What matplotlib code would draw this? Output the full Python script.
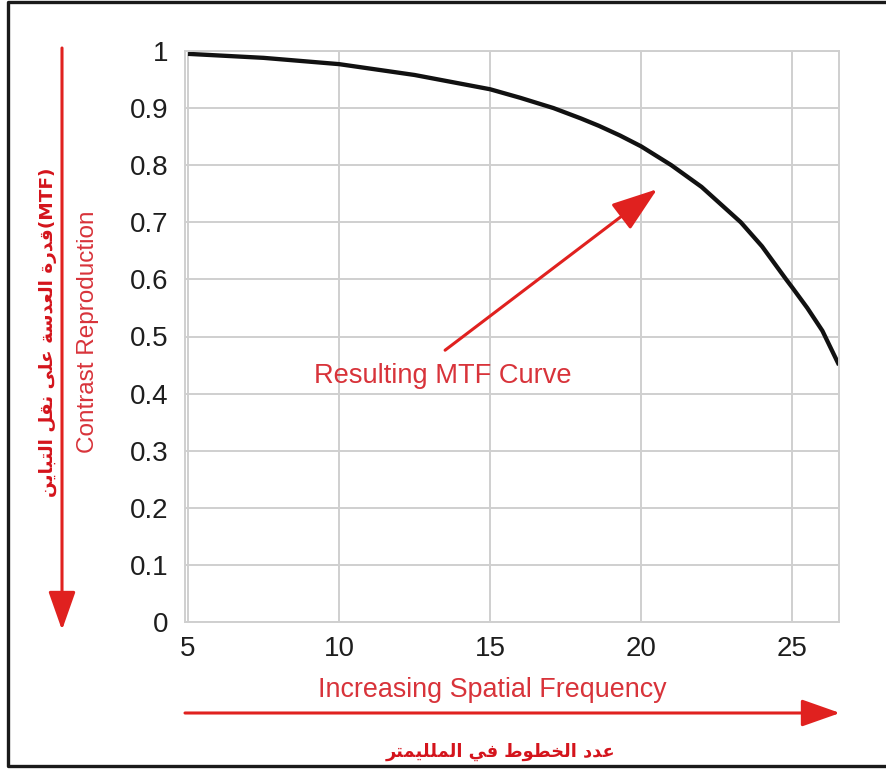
import matplotlib
matplotlib.use("Agg")
import matplotlib.pyplot as plt
from matplotlib.lines import Line2D

# data
freq = [5, 7.5, 10, 12.5, 15, 16, 17.1, 18, 18.6, 19.3, 20, 21, 22, 23.3, 24, 24.8, 25, 25.5, 26, 26.55]
mtf = [0.995, 0.988, 0.977, 0.958, 0.933, 0.918, 0.90, 0.882, 0.869, 0.852, 0.833, 0.80, 0.762, 0.70, 0.658, 0.60, 0.586, 0.55, 0.51, 0.45]
x_ticks = [5, 10, 15, 20, 25]
y_ticks = [0, 0.1, 0.2, 0.3, 0.4, 0.5, 0.6, 0.7, 0.8, 0.9, 1]
y_tick_labels = ["0", "0.1", "0.2", "0.3", "0.4", "0.5", "0.6", "0.7", "0.8", "0.9", "1"]

curve_label = "Resulting MTF Curve"
x_label = "Increasing Spatial Frequency"
y_label = "Contrast Reproduction"
ar_y_label = "قدرة العدسة على نقل التباين"
ar_x_label = "عدد الخطوط في الملليمتر"

# Arabic presentation forms: isolated, final, initial, medial
FORMS = {
    "ا": (0xFE8D, 0xFE8E), "ب": (0xFE8F, 0xFE90, 0xFE91, 0xFE92),
    "ة": (0xFE93, 0xFE94), "ت": (0xFE95, 0xFE96, 0xFE97, 0xFE98),
    "خ": (0xFEA5, 0xFEA6, 0xFEA7, 0xFEA8), "د": (0xFEA9, 0xFEAA),
    "ر": (0xFEAD, 0xFEAE), "س": (0xFEB1, 0xFEB2, 0xFEB3, 0xFEB4),
    "ط": (0xFEC1, 0xFEC2, 0xFEC3, 0xFEC4), "ع": (0xFEC9, 0xFECA, 0xFECB, 0xFECC),
    "ف": (0xFED1, 0xFED2, 0xFED3, 0xFED4), "ق": (0xFED5, 0xFED6, 0xFED7, 0xFED8),
    "ل": (0xFEDD, 0xFEDE, 0xFEDF, 0xFEE0), "م": (0xFEE1, 0xFEE2, 0xFEE3, 0xFEE4),
    "ن": (0xFEE5, 0xFEE6, 0xFEE7, 0xFEE8), "و": (0xFEED, 0xFEEE),
    "ى": (0xFEEF, 0xFEF0), "ي": (0xFEF1, 0xFEF2, 0xFEF3, 0xFEF4),
}


def shape_word(word):
    out = []
    for i, ch in enumerate(word):
        f = FORMS.get(ch)
        if f is None:
            out.append(ch)
            continue
        prev = FORMS.get(word[i - 1]) if i > 0 else None
        nxt = FORMS.get(word[i + 1]) if i < len(word) - 1 else None
        jp = prev is not None and len(prev) == 4
        jn = len(f) == 4 and nxt is not None
        if jp and jn:
            code = f[3]
        elif jp:
            code = f[1]
        elif jn:
            code = f[2]
        else:
            code = f[0]
        out.append(chr(code))
    return "".join(reversed(out))


def rtl(text):
    return " ".join(shape_word(w) for w in reversed(text.split()))


W, H = 886, 771
fig = plt.figure(figsize=(W / 100, H / 100), dpi=100)
fig.patch.set_facecolor("white")

ax = fig.add_axes([185 / W, 1 - 622 / H, (839 - 185) / W, (622 - 51) / H])
ax.plot(freq, mtf, color="#111111", linewidth=3.1, solid_capstyle="butt", solid_joinstyle="round")
ax.set_xlim(4.9, 26.55)
ax.set_ylim(0, 1)
ax.set_xticks(x_ticks)
ax.set_yticks(y_ticks)
ax.set_yticklabels(y_tick_labels)
ax.grid(True, color="#cfcfcf", linewidth=1.4)
ax.set_axisbelow(True)
for s in ax.spines.values():
    s.set_color("#cfcfcf")
    s.set_linewidth(1.4)
ax.tick_params(length=0, labelsize=20, labelcolor="#1e1e1e")
ax.tick_params(axis="y", pad=12)
ax.tick_params(axis="x", pad=10)
for lab in ax.get_xticklabels() + ax.get_yticklabels():
    lab.set_family("Liberation Sans")

red = "#e0211f"
txt_red = "#d8333a"

ax.annotate("", xy=(20.53, 0.758), xytext=(13.51, 0.476),
            arrowprops=dict(arrowstyle="-|>,head_length=0.95,head_width=0.33",
                            mutation_scale=30, color=red, lw=2.2, shrinkA=0, shrinkB=0))
ax.text(13.44, 0.431, curve_label, color=txt_red, fontsize=19.6, family="Liberation Sans",
        ha="center", va="center")

# red arrows outside the axes (figure pixels)
ax.annotate("", xy=(62, H - 630), xytext=(62, H - 48), xycoords="figure pixels",
            textcoords="figure pixels",
            arrowprops=dict(arrowstyle="-|>,head_length=0.85,head_width=0.3",
                            mutation_scale=28, color=red, lw=2.2, shrinkA=0, shrinkB=0))
ax.annotate("", xy=(840, H - 713), xytext=(185, H - 713), xycoords="figure pixels",
            textcoords="figure pixels",
            arrowprops=dict(arrowstyle="-|>,head_length=0.85,head_width=0.3",
                            mutation_scale=28, color=red, lw=2.2, shrinkA=0, shrinkB=0))

fig.text(88 / W, 1 - 332 / H, y_label, rotation=90, color=txt_red, fontsize=17.5,
         family="Liberation Sans", ha="center", va="center")
fig.text(48 / W, 1 - 332 / H, rtl(ar_y_label) + "(MTF)", rotation=90, color="#d4141c",
         fontsize=13.3, family="DejaVu Sans", weight="bold", ha="center", va="center")
fig.text(492 / W, 1 - 690 / H, x_label, color=txt_red, fontsize=19.4,
         family="Liberation Sans", ha="center", va="center")
fig.text(500 / W, 1 - 752 / H, rtl(ar_x_label), color="#d4141c", fontsize=12.8,
         family="DejaVu Sans", weight="bold", ha="center", va="center")

# black frame around the picture (no right edge visible)
fig.add_artist(Line2D([1.0, 8 / W, 8 / W, 1.0], [1 - 2 / H, 1 - 2 / H, 1 - 766 / H, 1 - 766 / H],
                      transform=fig.transFigure, color="#1a1a1a", linewidth=2.4))

fig.savefig("out.png", dpi=100)
